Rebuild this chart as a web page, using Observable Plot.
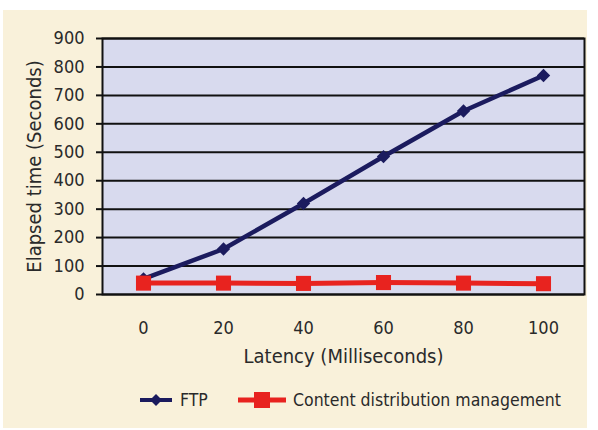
<!DOCTYPE html>
<html>
<head>
<meta charset="utf-8">
<script src="https://cdn.jsdelivr.net/npm/d3@7"></script>
<script src="https://cdn.jsdelivr.net/npm/@observablehq/plot@0.6"></script>
<style>
  html, body { margin: 0; padding: 0; background: #ffffff; width: 598px; height: 430px; overflow: hidden; }
  #bg { position: absolute; left: 3px; top: 10px; width: 584px; height: 418px; background: #f9f1da; }
  #chart { position: absolute; left: 0; top: 0; }
  #chart [aria-label="y-axis label"], #chart [aria-label="x-axis label"] { font-size: 20px; }
  #legend { position: absolute; left: 0; top: 388px; width: 598px; height: 24px;
    font-family: "Liberation Sans Narrow", "DejaVu Sans Condensed", "Roboto", sans-serif; font-size: 17.5px; color: #2a2a2a; }
  .item { position: absolute; top: 0; display: flex; align-items: center; height: 24px; }
  .item svg { margin-right: 6px; }
</style>
</head>
<body>
<div id="bg"></div>
<div id="chart"></div>
<div id="legend">
  <div class="item" style="left:138px"><svg width="36" height="16"><line x1="2" y1="8" x2="34" y2="8" stroke="#1b1b5e" stroke-width="4"/><path d="M18,2 L24,8 L18,14 L12,8 Z" fill="#1b1b5e"/></svg>FTP</div>
  <div class="item" style="left:237px"><svg width="50" height="20"><line x1="1" y1="10" x2="49" y2="10" stroke="#e8231f" stroke-width="5"/><rect x="17" y="2" width="16" height="16" fill="#e8231f"/></svg>Content distribution management</div>
</div>
<script>
const latency = ["0", "20", "40", "60", "80", "100"];
const ftp = [55, 160, 320, 485, 645, 770];
const cdm = [40, 40, 39, 42, 40, 38];
const yTicks = [0, 100, 200, 300, 400, 500, 600, 700, 800, 900];

const data = latency.map((l, i) => ({latency: l, ftp: ftp[i], cdm: cdm[i]}));

const chart = Plot.plot({
  width: 598,
  height: 370,
  marginLeft: 102,
  marginRight: 14,
  marginTop: 38,
  marginBottom: 76,
  style: {background: "transparent", fontFamily: '"Liberation Sans Narrow", "DejaVu Sans Condensed", "Roboto", sans-serif', fontSize: "18px", color: "#2a2a2a"},
  x: {type: "point", domain: latency, padding: 0.5},
  y: {domain: [0, 900]},
  marks: [
    Plot.frame({fill: "#d8daee"}),
    Plot.gridY(yTicks, {stroke: "#111", strokeOpacity: 1, strokeWidth: 2}),
    Plot.frame({stroke: "#111", strokeWidth: 2}),
    Plot.axisY(yTicks, {tickSize: 6, tickPadding: 12, stroke: "#111", strokeWidth: 2, label: "Elapsed time (Seconds)", labelAnchor: "center", labelArrow: "none", labelOffset: 76}),
    Plot.axisX({tickSize: 0, tickPadding: 27, label: "Latency (Milliseconds)", labelAnchor: "center", labelArrow: "none", labelOffset: 68}),
    Plot.line(data, {x: "latency", y: "ftp", stroke: "#1b1b5e", strokeWidth: 4.5}),
    Plot.dot(data, {x: "latency", y: "ftp", symbol: "diamond2", r: 6, fill: "#1b1b5e"}),
    Plot.line(data, {x: "latency", y: "cdm", stroke: "#e8231f", strokeWidth: 5}),
    Plot.dot(data, {x: "latency", y: "cdm", symbol: "square", r: 8.5, fill: "#e8231f"})
  ]
});
document.getElementById("chart").appendChild(chart);
</script>
</body>
</html>
